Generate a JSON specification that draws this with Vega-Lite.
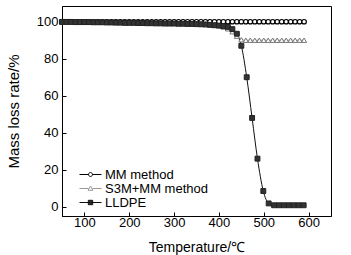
{
  "$schema": "https://vega.github.io/schema/vega-lite/v6.json",
  "width": 269,
  "height": 210,
  "autosize": "none",
  "padding": {"left": 62, "top": 6, "right": 20, "bottom": 39},
  "background": "white",
  "config": {
    "view": {"stroke": "black", "strokeWidth": 1},
    "font": "Liberation Sans",
    "axis": {"domainColor": "black", "tickColor": "black", "labelColor": "black", "titleColor": "black", "grid": false, "labelFont": "Liberation Sans", "titleFont": "Liberation Sans", "labelFontSize": 13, "titleFontWeight": "normal", "labelFlush": false}
  },
  "data": {"values": [
    {"method":"MM method","t":50,"v":100},{"method":"MM method","t":60,"v":100},{"method":"MM method","t":70,"v":100},{"method":"MM method","t":80,"v":100},{"method":"MM method","t":90,"v":100},{"method":"MM method","t":100,"v":100},{"method":"MM method","t":110,"v":100},{"method":"MM method","t":120,"v":100},{"method":"MM method","t":130,"v":100},{"method":"MM method","t":140,"v":100},{"method":"MM method","t":150,"v":100},{"method":"MM method","t":160,"v":100},{"method":"MM method","t":170,"v":100},{"method":"MM method","t":180,"v":100},{"method":"MM method","t":190,"v":100},{"method":"MM method","t":200,"v":100},{"method":"MM method","t":210,"v":100},{"method":"MM method","t":220,"v":100},{"method":"MM method","t":230,"v":100},{"method":"MM method","t":240,"v":100},{"method":"MM method","t":250,"v":100},{"method":"MM method","t":260,"v":100},{"method":"MM method","t":270,"v":100},{"method":"MM method","t":280,"v":100},{"method":"MM method","t":290,"v":100},{"method":"MM method","t":300,"v":100},{"method":"MM method","t":310,"v":100},{"method":"MM method","t":320,"v":100},{"method":"MM method","t":330,"v":100},{"method":"MM method","t":340,"v":100},{"method":"MM method","t":350,"v":100},{"method":"MM method","t":360,"v":100},{"method":"MM method","t":370,"v":100},{"method":"MM method","t":380,"v":100},{"method":"MM method","t":390,"v":100},{"method":"MM method","t":400,"v":100},{"method":"MM method","t":410,"v":100},{"method":"MM method","t":420,"v":100},{"method":"MM method","t":430,"v":100},{"method":"MM method","t":440,"v":100},{"method":"MM method","t":450,"v":100},{"method":"MM method","t":460,"v":100},{"method":"MM method","t":470,"v":100},{"method":"MM method","t":480,"v":100},{"method":"MM method","t":490,"v":100},{"method":"MM method","t":500,"v":100},{"method":"MM method","t":510,"v":100},{"method":"MM method","t":520,"v":100},{"method":"MM method","t":530,"v":100},{"method":"MM method","t":540,"v":100},{"method":"MM method","t":550,"v":100},{"method":"MM method","t":560,"v":100},{"method":"MM method","t":570,"v":100},{"method":"MM method","t":580,"v":100},{"method":"MM method","t":590,"v":100},
    {"method":"S3M+MM method","t":50,"v":100},{"method":"S3M+MM method","t":60,"v":100},{"method":"S3M+MM method","t":70,"v":100},{"method":"S3M+MM method","t":80,"v":100},{"method":"S3M+MM method","t":90,"v":100},{"method":"S3M+MM method","t":100,"v":99.9},{"method":"S3M+MM method","t":110,"v":99.9},{"method":"S3M+MM method","t":120,"v":99.9},{"method":"S3M+MM method","t":130,"v":99.8},{"method":"S3M+MM method","t":140,"v":99.8},{"method":"S3M+MM method","t":150,"v":99.8},{"method":"S3M+MM method","t":160,"v":99.7},{"method":"S3M+MM method","t":170,"v":99.7},{"method":"S3M+MM method","t":180,"v":99.7},{"method":"S3M+MM method","t":190,"v":99.6},{"method":"S3M+MM method","t":200,"v":99.6},{"method":"S3M+MM method","t":210,"v":99.6},{"method":"S3M+MM method","t":220,"v":99.5},{"method":"S3M+MM method","t":230,"v":99.5},{"method":"S3M+MM method","t":240,"v":99.5},{"method":"S3M+MM method","t":250,"v":99.4},{"method":"S3M+MM method","t":260,"v":99.4},{"method":"S3M+MM method","t":270,"v":99.4},{"method":"S3M+MM method","t":280,"v":99.3},{"method":"S3M+MM method","t":290,"v":99.3},{"method":"S3M+MM method","t":300,"v":99.3},{"method":"S3M+MM method","t":310,"v":99.2},{"method":"S3M+MM method","t":320,"v":99.2},{"method":"S3M+MM method","t":330,"v":99.1},{"method":"S3M+MM method","t":340,"v":99.1},{"method":"S3M+MM method","t":350,"v":99},{"method":"S3M+MM method","t":360,"v":98.9},{"method":"S3M+MM method","t":370,"v":98.8},{"method":"S3M+MM method","t":380,"v":98.6},{"method":"S3M+MM method","t":390,"v":98.3},{"method":"S3M+MM method","t":400,"v":97.9},{"method":"S3M+MM method","t":410,"v":97.2},{"method":"S3M+MM method","t":420,"v":96.2},{"method":"S3M+MM method","t":430,"v":94.6},{"method":"S3M+MM method","t":440,"v":92.2},{"method":"S3M+MM method","t":450,"v":90.3},{"method":"S3M+MM method","t":460,"v":90},{"method":"S3M+MM method","t":470,"v":90},{"method":"S3M+MM method","t":480,"v":90},{"method":"S3M+MM method","t":490,"v":90},{"method":"S3M+MM method","t":500,"v":90},{"method":"S3M+MM method","t":510,"v":90},{"method":"S3M+MM method","t":520,"v":90},{"method":"S3M+MM method","t":530,"v":90},{"method":"S3M+MM method","t":540,"v":90},{"method":"S3M+MM method","t":550,"v":90},{"method":"S3M+MM method","t":560,"v":90},{"method":"S3M+MM method","t":570,"v":90},{"method":"S3M+MM method","t":580,"v":90},{"method":"S3M+MM method","t":590,"v":90},
    {"method":"LLDPE","t":50,"v":99.9},{"method":"LLDPE","t":60,"v":99.9},{"method":"LLDPE","t":70,"v":99.9},{"method":"LLDPE","t":80,"v":99.8},{"method":"LLDPE","t":90,"v":99.8},{"method":"LLDPE","t":100,"v":99.8},{"method":"LLDPE","t":110,"v":99.8},{"method":"LLDPE","t":120,"v":99.7},{"method":"LLDPE","t":130,"v":99.7},{"method":"LLDPE","t":140,"v":99.7},{"method":"LLDPE","t":150,"v":99.6},{"method":"LLDPE","t":160,"v":99.6},{"method":"LLDPE","t":170,"v":99.5},{"method":"LLDPE","t":180,"v":99.5},{"method":"LLDPE","t":190,"v":99.4},{"method":"LLDPE","t":200,"v":99.4},{"method":"LLDPE","t":210,"v":99.4},{"method":"LLDPE","t":220,"v":99.3},{"method":"LLDPE","t":230,"v":99.3},{"method":"LLDPE","t":240,"v":99.2},{"method":"LLDPE","t":250,"v":99.2},{"method":"LLDPE","t":260,"v":99.1},{"method":"LLDPE","t":270,"v":99.1},{"method":"LLDPE","t":280,"v":99},{"method":"LLDPE","t":290,"v":99},{"method":"LLDPE","t":300,"v":99},{"method":"LLDPE","t":310,"v":98.9},{"method":"LLDPE","t":320,"v":98.9},{"method":"LLDPE","t":330,"v":98.8},{"method":"LLDPE","t":340,"v":98.8},{"method":"LLDPE","t":350,"v":98.7},{"method":"LLDPE","t":360,"v":98.6},{"method":"LLDPE","t":370,"v":98.5},{"method":"LLDPE","t":380,"v":98.3},{"method":"LLDPE","t":390,"v":98.1},{"method":"LLDPE","t":400,"v":97.9},{"method":"LLDPE","t":410,"v":97.6},{"method":"LLDPE","t":420,"v":97.2},{"method":"LLDPE","t":430,"v":96},{"method":"LLDPE","t":440,"v":93.5},{"method":"LLDPE","t":450,"v":87},{"method":"LLDPE","t":462,"v":70},{"method":"LLDPE","t":474,"v":48},{"method":"LLDPE","t":486,"v":26},{"method":"LLDPE","t":499,"v":8.5},{"method":"LLDPE","t":511,"v":1.8},{"method":"LLDPE","t":523,"v":0.8},{"method":"LLDPE","t":534,"v":0.8},{"method":"LLDPE","t":545,"v":0.8},{"method":"LLDPE","t":556,"v":0.8},{"method":"LLDPE","t":567,"v":0.8},{"method":"LLDPE","t":578,"v":0.8},{"method":"LLDPE","t":589,"v":0.8}
  ]},
  "encoding": {
    "x": {"field": "t", "type": "quantitative", "scale": {"domain": [50, 650], "nice": false, "zero": false}},
    "y": {"field": "v", "type": "quantitative", "scale": {"domain": [-5, 108.5], "nice": false, "zero": false}}
  },
  "layer": [
    {
      "mark": {"type": "line", "strokeWidth": 1, "interpolate": "monotone"},
      "encoding": {
        "x": {"field": "t", "type": "quantitative", "axis": {
          "values": [100,150,200,250,300,350,400,450,500,550,600],
          "labelExpr": "datum.value % 100 === 0 ? datum.label : ''",
          "tickSize": {"condition": {"test": "datum.value % 100 === 0", "value": -4}, "value": -2},
          "labelPadding": 4,
          "title": "Temperature/℃", "titleFontSize": 14, "titlePadding": 11
        }},
        "y": {"field": "v", "type": "quantitative", "axis": {
          "values": [0,10,20,30,40,50,60,70,80,90,100],
          "labelExpr": "datum.value % 20 === 0 ? datum.label : ''",
          "tickSize": {"condition": {"test": "datum.value % 20 === 0", "value": -4}, "value": -2},
          "labelPadding": 8,
          "title": "Mass loss rate/%", "titleFontSize": 15, "titlePadding": 15
        }},
        "stroke": {"field": "method", "type": "nominal", "scale": {"domain": ["MM method", "S3M+MM method", "LLDPE"], "range": ["#000000", "#999999", "#111111"]}}
      }
    },
    {
      "transform": [{"filter": {"field": "method", "equal": "MM method"}}],
      "mark": {"type": "point", "shape": "circle", "size": 20, "strokeWidth": 1.2, "opacity": 1, "stroke": "#000000", "fill": "#ffffff", "filled": false}
    },
    {
      "transform": [{"filter": {"field": "method", "equal": "S3M+MM method"}}],
      "mark": {"type": "point", "shape": "triangle-up", "size": 26, "strokeWidth": 1, "opacity": 1, "stroke": "#777777", "fill": "#ffffff", "filled": false}
    },
    {
      "transform": [{"filter": {"field": "method", "equal": "LLDPE"}}],
      "mark": {"type": "point", "shape": "square", "size": 24, "strokeWidth": 1, "opacity": 1, "stroke": "#222222", "fill": "#333333", "filled": false}
    },
    {
      "transform": [{"filter": "datum.t > 5000"}],
      "mark": {"type": "point", "strokeWidth": 1, "opacity": 1},
      "encoding": {
        "shape": {"field": "method", "type": "nominal", "scale": {"domain": ["MM method", "S3M+MM method", "LLDPE"], "range": [
          "M-5.5,0H-1M1,0H5.5M-1,0A1,1 0 1,1 1,0A1,1 0 1,1 -1,0",
          "M-5.5,0H-1M1,0H5.5M0,-1.2L1.2,0.9L-1.2,0.9Z",
          "M-5.5,0H5.5M-1.1,-1.1H1.1V1.1H-1.1Z"
        ]}, "legend": {
          "orient": "none", "legendX": 22, "legendY": 162, "title": null, "padding": 0,
          "labelFontSize": 13, "labelFont": "Liberation Sans", "labelColor": "black", "labelOffset": 8, "rowPadding": -1.4, "symbolSize": 16, "symbolOpacity": 1, "symbolStrokeWidth": 1
        }},
        "stroke": {"field": "method", "type": "nominal"},
        "fill": {"field": "method", "type": "nominal", "scale": {"domain": ["MM method", "S3M+MM method", "LLDPE"], "range": ["#ffffff", "#ffffff", "#333333"]}}
      }
    }
  ]
}
